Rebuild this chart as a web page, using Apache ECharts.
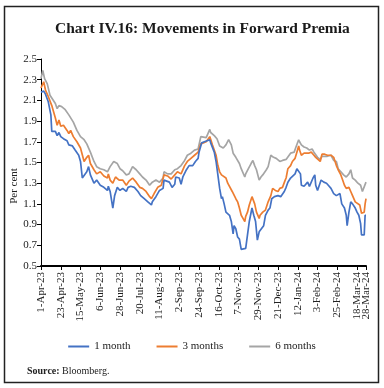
<!DOCTYPE html>
<html>
<head>
<meta charset="utf-8">
<script src="https://cdn.jsdelivr.net/npm/echarts@6/dist/echarts.min.js"></script>
<style>html,body{margin:0;padding:0;background:#fff}#c{width:384px;height:388px}</style>
</head>
<body>
<div id="c"></div>
<script>
// Day offsets from 1-Apr-2023 and values (per cent)
const m1Days = [0,3,5,8,11,12,16,18,20,22,25,29,31,35,38,42,44,46,48,51,53,55,59,62,66,70,74,75,77,80,82,85,88,91,95,97,100,104,108,111,115,119,123,124,128,132,136,137,139,143,146,149,150,154,156,158,162,165,169,172,175,176,179,182,184,188,189,193,195,197,199,201,202,204,206,208,210,212,214,215,217,219,221,223,225,228,230,232,235,237,239,241,243,245,248,250,253,255,257,260,264,267,271,273,275,278,280,283,285,287,289,290,293,295,297,299,301,303,305,306,308,310,312,315,318,320,323,326,329,331,333,335,338,340,341,343,345,347,350,352,354,356,357,360,361,362];
const m1Vals = [2.18,2.19,2.16,2.09,1.96,1.80,1.80,1.76,1.79,1.75,1.73,1.71,1.67,1.66,1.62,1.57,1.51,1.35,1.36,1.41,1.46,1.38,1.30,1.33,1.28,1.26,1.23,1.27,1.22,1.06,1.18,1.26,1.23,1.25,1.22,1.26,1.27,1.26,1.22,1.18,1.15,1.12,1.09,1.12,1.17,1.23,1.25,1.33,1.32,1.31,1.26,1.29,1.36,1.35,1.29,1.36,1.43,1.47,1.47,1.51,1.54,1.60,1.69,1.70,1.69,1.72,1.69,1.60,1.51,1.38,1.25,1.15,1.17,1.10,1.02,1.01,0.99,0.93,0.81,0.89,0.86,0.78,0.76,0.66,0.66,0.67,0.80,0.93,1.06,0.99,0.93,0.75,0.83,0.84,0.89,0.99,1.04,1.06,1.15,1.17,1.18,1.17,1.22,1.26,1.31,1.35,1.35,1.39,1.44,1.43,1.39,1.28,1.27,1.28,1.31,1.27,1.27,1.35,1.38,1.28,1.23,1.22,1.33,1.31,1.30,1.28,1.25,1.20,1.18,1.17,1.20,1.10,1.06,0.99,0.89,1.02,1.12,1.10,1.06,1.02,0.99,0.91,0.80,0.80,0.99,0.99];

const m3Days = [0,3,5,8,12,16,18,20,22,25,29,31,33,36,40,44,48,51,53,55,59,62,66,70,74,75,77,80,83,87,91,95,98,102,106,110,113,117,121,123,126,130,134,137,141,145,149,152,156,160,163,167,171,175,178,180,184,188,191,195,197,199,201,203,206,208,210,213,215,217,219,221,223,225,227,228,230,232,235,238,240,243,244,247,250,253,255,256,258,261,264,266,269,272,273,275,278,280,283,285,287,288,290,293,295,298,301,304,306,308,311,313,316,319,323,326,329,331,334,336,338,340,343,345,347,350,352,355,357,359,360,361,362];
const m3Vals = [2.22,2.28,2.20,2.14,2.05,1.93,1.86,1.91,1.85,1.86,1.81,1.78,1.81,1.75,1.70,1.64,1.51,1.55,1.57,1.49,1.43,1.39,1.41,1.37,1.35,1.39,1.33,1.30,1.36,1.33,1.33,1.28,1.32,1.35,1.31,1.26,1.25,1.22,1.17,1.15,1.20,1.26,1.28,1.38,1.37,1.34,1.38,1.41,1.39,1.47,1.51,1.54,1.57,1.60,1.68,1.69,1.70,1.75,1.67,1.57,1.47,1.41,1.38,1.39,1.35,1.30,1.31,1.22,1.23,1.15,1.12,1.06,0.99,0.96,0.93,0.98,1.02,1.09,1.17,1.10,1.02,0.96,0.99,1.02,1.04,1.12,1.12,1.18,1.25,1.23,1.22,1.25,1.26,1.33,1.35,1.44,1.47,1.51,1.54,1.60,1.66,1.62,1.57,1.59,1.60,1.59,1.60,1.57,1.55,1.54,1.51,1.58,1.58,1.57,1.57,1.55,1.47,1.43,1.38,1.33,1.28,1.25,1.26,1.22,1.18,1.12,1.12,1.09,1.01,1.00,1.02,1.10,1.15];

const m6Days = [0,2,4,7,10,16,18,20,23,27,31,33,36,40,44,48,51,53,55,59,62,66,70,74,77,81,85,88,91,95,98,102,106,110,113,117,121,124,128,132,136,137,141,145,149,152,156,160,163,167,171,175,178,180,184,188,189,193,196,199,201,203,206,209,212,214,215,217,219,221,223,225,227,228,231,234,236,238,240,243,245,247,251,253,256,259,262,266,269,273,275,278,282,284,287,288,290,293,296,299,302,304,306,308,311,313,316,319,323,326,329,331,334,337,340,343,345,347,350,353,356,358,360,362];
const m6Vals = [2.31,2.39,2.31,2.26,2.15,2.07,2.02,2.05,2.04,2.01,1.96,1.97,1.89,1.81,1.75,1.72,1.68,1.69,1.60,1.51,1.46,1.44,1.43,1.41,1.46,1.51,1.49,1.44,1.42,1.38,1.39,1.46,1.43,1.39,1.36,1.33,1.28,1.31,1.33,1.31,1.35,1.41,1.39,1.39,1.43,1.44,1.47,1.52,1.57,1.59,1.62,1.63,1.75,1.75,1.74,1.82,1.79,1.76,1.73,1.66,1.67,1.64,1.67,1.72,1.67,1.59,1.60,1.55,1.54,1.49,1.44,1.43,1.36,1.39,1.44,1.49,1.52,1.47,1.43,1.33,1.36,1.38,1.43,1.46,1.57,1.55,1.54,1.51,1.52,1.53,1.53,1.59,1.60,1.65,1.72,1.70,1.67,1.65,1.64,1.62,1.63,1.60,1.59,1.55,1.53,1.56,1.56,1.56,1.57,1.52,1.51,1.44,1.41,1.38,1.36,1.39,1.43,1.35,1.33,1.30,1.28,1.22,1.22,1.31];

const seriesNames = ['1 month', '3 months', '6 months'];
const yTicks = { min: 0.5, max: 2.5, step: 0.2 };

// Calendar-day categories 1-Apr-23 .. 28-Mar-24
const MON = ['Jan','Feb','Mar','Apr','May','Jun','Jul','Aug','Sep','Oct','Nov','Dec'];
const categories = [];
{
  const start = Date.UTC(2023, 3, 1);
  for (let i = 0; i < 363; i++) {
    const d = new Date(start + i * 86400000);
    categories.push(d.getUTCDate() + '-' + MON[d.getUTCMonth()] + '-' + String(d.getUTCFullYear()).slice(2));
  }
}
const lastIdx = categories.length - 1;
const showIdx = (i) => i % 22 === 0 || i === lastIdx;

const pairs = (days, vals) => days.map((d, i) => [d, vals[i]]);
const FONT = '"Liberation Serif", "DejaVu Serif", serif';
const colors = ['#4472C4', '#ED7D31', '#A5A5A5'];
const labelStyle = { rotate: 90, margin: 6, fontSize: 11, color: '#222', fontFamily: FONT };

const chart = echarts.init(document.getElementById('c'), null, { renderer: 'canvas' });
chart.setOption({
  animation: false,
  color: colors,
  textStyle: { fontFamily: FONT },
  title: {
    text: 'Chart IV.16: Movements in Forward Premia',
    left: 50, top: 16,
    textStyle: { fontFamily: FONT, fontSize: 15.5, fontWeight: 'bold', color: '#1a1a1a' }
  },
  grid: { left: 41, right: 18, top: 59, bottom: 122, containLabel: false },
  xAxis: [{
    type: 'category',
    data: categories,
    boundaryGap: false,
    axisLine: { lineStyle: { color: '#000', width: 2 } },
    axisTick: { interval: (i) => showIdx(i), length: 4, lineStyle: { color: '#000' } },
    axisLabel: Object.assign({ interval: (i) => i % 22 === 0 && i !== lastIdx, showMaxLabel: true, showMinLabel: true }, labelStyle),
    splitLine: { show: false }
  }, {
    type: 'category',
    position: 'bottom',
    data: categories,
    boundaryGap: false,
    axisLine: { show: false },
    axisTick: { show: false },
    axisLabel: Object.assign({ interval: (i) => i === lastIdx, showMinLabel: true, showMaxLabel: true }, labelStyle),
    splitLine: { show: false }
  }],
  yAxis: {
    type: 'value',
    min: yTicks.min, max: yTicks.max, interval: yTicks.step,
    axisLine: { show: true, lineStyle: { color: '#000', width: 1 } },
    axisTick: { show: true, length: 4, lineStyle: { color: '#000' } },
    axisLabel: { formatter: (v) => v.toFixed(1), fontSize: 11, color: '#222', margin: 4, fontFamily: FONT },
    splitLine: { show: false }
  },
  legend: {
    bottom: 31, left: 'center',
    icon: 'rect', itemWidth: 21, itemHeight: 2, itemGap: 26,
    textStyle: { fontFamily: FONT, fontSize: 11, color: '#222' },
    data: seriesNames
  },
  series: [
    { name: seriesNames[0], type: 'line', data: pairs(m1Days, m1Vals), showSymbol: false, lineStyle: { width: 1.7 }, z: 3 },
    { name: seriesNames[1], type: 'line', data: pairs(m3Days, m3Vals), showSymbol: false, lineStyle: { width: 1.7 }, z: 2 },
    { name: seriesNames[2], type: 'line', data: pairs(m6Days, m6Vals), showSymbol: false, lineStyle: { width: 1.7 }, z: 1 }
  ],
  graphic: [
    { type: 'rect', shape: { x: 4.5, y: 6.5, width: 374, height: 376 }, style: { fill: 'none', stroke: '#222', lineWidth: 1.5 }, silent: true },
    { type: 'text', x: 14, y: 186, rotation: Math.PI / 2, style: { text: 'Per cent', font: '11px ' + FONT, fill: '#222', textAlign: 'center', textVerticalAlign: 'middle' } },
    { type: 'text', x: 27, y: 371, style: {
        text: '{b|Source:} Bloomberg.',
        font: '10px ' + FONT, fill: '#222', textVerticalAlign: 'middle',
        rich: { b: { fontWeight: 'bold', fontFamily: FONT, fontSize: 10, fill: '#222' } }
      } }
  ]
});
</script>
</body>
</html>
